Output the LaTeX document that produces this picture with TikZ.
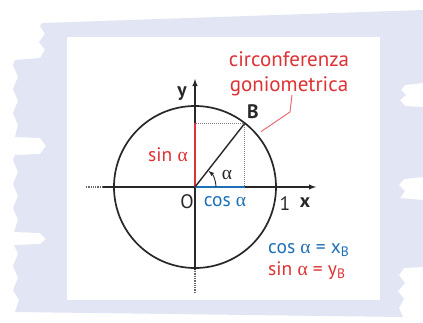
\documentclass[tikz,border=0pt]{standalone}
\usepackage{fontspec}
\setmainfont{PT Sans}
\newfontfamily\griech{Liberation Serif}
\usepackage{xcolor}
\usetikzlibrary{arrows, positioning}
\definecolor{lila}{RGB}{226,229,243}
\definecolor{rotgon}{RGB}{222,50,52}
\definecolor{blaucos}{RGB}{30,112,182}
\definecolor{strich}{RGB}{40,40,40}
\newcommand{\alf}{{\griech α}}

\begin{document}
\begin{tikzpicture}[x=1pt, y=1pt,
				>=latex,   %Pfeilspitzen
				font=\fontsize{19.5}{22}\selectfont,
				achse/.style={line width=1.4pt, color=strich},
				hilf/.style={densely dotted, color=gray, line width=1pt},
				rotlabel/.style={color=rotgon, inner sep=1pt},
				blaulabel/.style={color=blaucos, inner sep=1pt},
				schwarzlabel/.style={color=strich, inner sep=1pt}]
				\useasboundingbox (-195,-135) rectangle (228,187);
				%Hintergrund zeichnen
				\begin{scope}[shift={(-195,187)}, yscale=-1]
					\fill[lila] (42,23) -- (423,10) -- (423,83) -- (405,85) -- (401,90) -- (406,95) -- (400,100) -- (405,106) -- (423,107)
					-- (423,177) -- (404,179) -- (399,185) -- (405,191) -- (400,198) -- (423,200)
					-- (423,267) -- (404,268) -- (399,275) -- (405,283) -- (398,291) -- (404,299) -- (399,308) -- (403,317)
					-- (15,312) -- (19,300) -- (13,290) -- (18,278) -- (13,266) -- (18,254) -- (14,245) -- (40,244) -- (46,239) -- (40,233)
					-- (14,232) -- (18,220) -- (13,208) -- (18,196) -- (13,184) -- (18,172) -- (13,160) -- (15,155) -- (40,154) -- (46,146) -- (40,138)
					-- (15,137) -- (18,125) -- (13,113) -- (18,101) -- (13,89) -- (18,77) -- (13,65) -- (15,60) -- (40,58) -- (45,50) -- (39,42) -- (45,34) -- (40,26) -- cycle;
					\fill[white] (67,37) rectangle (380,300);
				\end{scope}
				%Punkte
				\coordinate (O) at (0,0);
				\coordinate (B) at (52:81);
				\coordinate (xl) at (-109,0);
				\coordinate (xm) at (-92,0);
				\coordinate (xr) at (121,0);
				\coordinate (yu) at (0,-106);
				\coordinate (ym) at (0,-83);
				\coordinate (yo) at (0,108);
				%Kreis zeichnen
				\draw[achse, line width=1.7pt] (O) circle (81);
				%Hilfslinien
				\draw[hilf] (B) -- (B |- O);
				\draw[hilf] (B) -- (B -| O);
				%Achsen zeichnen
				\draw[hilf, color=strich!70, line width=1.3pt] (xl) -- (xm);
				\draw[hilf, color=strich!70, line width=1.3pt] (yu) -- (ym);
				\draw[->, achse] (xm) -- (xr);
				\draw[->, achse] (ym) -- (yo);
				% sin und cos
				\draw[rotgon, line width=1.6pt] (O) -- (B -| O);
				\draw[blaucos, line width=1.6pt] (O) -- (B |- O);
				\draw[achse] (O) -- (B);
				% Winkel
				\draw[->, strich, line width=0.9pt] (21,0) arc (0:50:21);
				% Beschriftung
				\node[schwarzlabel] (alpha) at (32,12) {\alf};
				\node[schwarzlabel] (ylab) at (-13,93) {\textbf{y}};
				\node[schwarzlabel] (xlab) at (110,-16) {\textbf{x}};
				\node[schwarzlabel] (eins) at (90,-17) {1};
				\node[schwarzlabel] (blab) at (58,75) {\textbf{B}};
				\node[schwarzlabel] (olab) at (-8,-15) {O};
				\node[rotlabel] (sinlab) at (-27,32) {sin \alf};
				\node[blaulabel] (coslab) at (30,-15) {cos \alf};
				\node[rotlabel, align=center, font=\fontsize{21}{25}\selectfont] (kreislab) at (94,113) {circonferenza\\goniometrica};
				% Zeiger zum Kreis
				\coordinate (k1) at (40:86);
				\coordinate (k2) at (95,75);
				\coordinate (k3) at (97,92);
				\draw[rotgon!70, line width=1pt] (k1) -- (k2) -- (k3);
				% Formeln
				\node[blaulabel, anchor=west] (cosform) at (72,-63) {cos \alf{} = x\textsubscript{B}};
				\node[rotlabel, below=3pt of cosform.south west, anchor=north west] (sinform) {sin \alf{} = y\textsubscript{B}};
			\end{tikzpicture}
\end{document}
